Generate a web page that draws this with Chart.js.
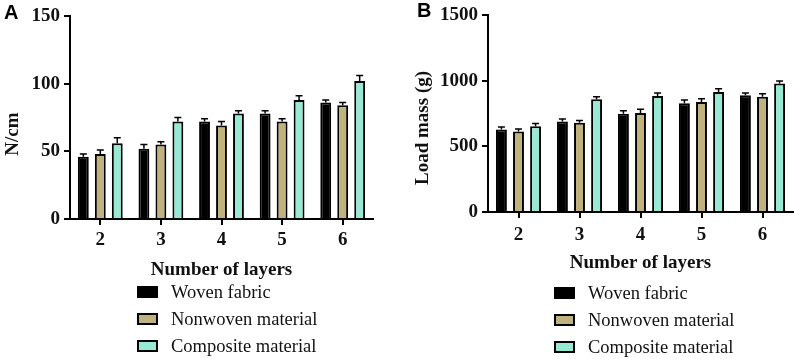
<!DOCTYPE html>
<html>
<head>
<meta charset="utf-8">
<script src="https://cdn.jsdelivr.net/npm/chart.js"></script>
<style>
  html, body { margin: 0; padding: 0; background: #fff; }
  #wrap { position: relative; width: 796px; height: 359px; overflow: hidden; }
  canvas { position: absolute; top: 0; }
  .plabel { position: absolute; font: bold 20px "Liberation Sans", Arial, sans-serif; color: #000; }
</style>
</head>
<body>
<div id="wrap">
  <canvas id="cA" width="400" height="359" style="left:0"></canvas>
  <canvas id="cB" width="396" height="359" style="left:400px"></canvas>
  <div class="plabel" style="left:4px; top:1px;">A</div>
  <div class="plabel" style="left:417px; top:-1px;">B</div>
</div>
<script>
// ---- data ----
const layers = ['2', '3', '4', '5', '6'];
const seriesNames = ['Woven fabric', 'Nonwoven material', 'Composite material'];

// Panel A: N/cm
const strengthWoven = [46, 52, 72, 78, 86];
const strengthNonwoven = [48, 55, 69, 72, 84];
const strengthComposite = [56, 72, 78, 88, 102];
const strengthWovenErr = [2, 3, 2, 2, 2];
const strengthNonwovenErr = [3, 2, 3, 2, 2];
const strengthCompositeErr = [4, 3, 2, 3, 4];
const strengthTicks = [0, 50, 100, 150];

// Panel B: Load mass (g)
const loadWoven = [630, 690, 750, 830, 890];
const loadNonwoven = [615, 680, 755, 840, 880];
const loadComposite = [655, 860, 885, 915, 980];
const loadWovenErr = [18, 20, 22, 25, 18];
const loadNonwovenErr = [18, 18, 28, 25, 22];
const loadCompositeErr = [20, 20, 22, 25, 20];
const loadTicks = [0, 500, 1000, 1500];

// ---- styles ----
const fills = ['#000000', '#c0b27c', '#97e9d4'];
const serif = '"Liberation Serif", "Times New Roman", serif';

const errorBarPlugin = {
  id: 'errorBars',
  afterDatasetsDraw(chart) {
    const ctx = chart.ctx;
    const ys = chart.scales.y;
    ctx.save();
    ctx.strokeStyle = '#000';
    ctx.lineWidth = 1.5;
    chart.data.datasets.forEach((ds, di) => {
      const meta = chart.getDatasetMeta(di);
      meta.data.forEach((el, i) => {
        const v = ds.data[i];
        const e = ds.errors[i];
        const yTop = ys.getPixelForValue(v + e);
        ctx.beginPath();
        ctx.moveTo(el.x, el.y);
        ctx.lineTo(el.x, yTop);
        ctx.moveTo(el.x - 3.5, yTop);
        ctx.lineTo(el.x + 3.5, yTop);
        ctx.stroke();
      });
    });
    ctx.restore();
  }
};

const stackedLegendPlugin = {
  id: 'stackedLegend',
  afterDraw(chart, args, opts) {
    const ctx = chart.ctx;
    ctx.save();
    chart.data.datasets.forEach((ds, i) => {
      const cy = opts.y0 + i * opts.gap;
      ctx.fillStyle = ds.backgroundColor;
      ctx.fillRect(opts.x, cy - 6, 21, 12);
      ctx.strokeStyle = '#000';
      ctx.lineWidth = 2;
      ctx.strokeRect(opts.x + 1, cy - 5, 19, 10);
      ctx.fillStyle = '#111';
      ctx.font = '18.5px ' + serif;
      ctx.textBaseline = 'middle';
      ctx.textAlign = 'left';
      ctx.fillText(ds.label, opts.x + 34, cy + 1);
    });
    ctx.restore();
  }
};

function makeChart(id, values, errors, ticks, yTitle, cfg) {
  const datasets = values.map((vals, i) => ({
    label: seriesNames[i],
    data: vals,
    errors: errors[i],
    backgroundColor: fills[i],
    borderColor: '#000',
    borderWidth: 2,
    categoryPercentage: 0.84,
    barPercentage: 0.64
  }));
  return new Chart(document.getElementById(id), {
    type: 'bar',
    data: { labels: layers, datasets },
    plugins: [errorBarPlugin, stackedLegendPlugin],
    options: {
      responsive: false,
      animation: false,
      devicePixelRatio: 1,
      layout: { padding: cfg.padding },
      plugins: {
        legend: { display: false },
        tooltip: { enabled: false },
        stackedLegend: cfg.legend
      },
      scales: {
        x: {
          offset: true,
          grid: { display: true, drawOnChartArea: false, drawTicks: true, tickLength: 6, color: '#000', lineWidth: 2, offset: false },
          border: { display: true, color: '#000', width: 2 },
          ticks: { color: '#111', font: { family: serif, size: 19, weight: 'bold' }, padding: cfg.xPad },
          title: { display: true, text: 'Number of layers', color: '#111', font: { family: serif, size: 19, weight: 'bold' }, padding: 0 },
          afterFit(s) { s.height = 62; }
        },
        y: {
          min: 0,
          max: ticks[ticks.length - 1],
          afterBuildTicks(s) { s.ticks = ticks.map(v => ({ value: v })); },
          grid: { display: true, drawOnChartArea: false, drawTicks: true, tickLength: 6, color: '#000', lineWidth: 2 },
          border: { display: true, color: '#000', width: 2 },
          ticks: { color: '#111', font: { family: serif, size: 19, weight: 'bold' }, padding: 4, callback: v => String(v) },
          title: { display: true, text: yTitle, color: '#111', font: { family: serif, size: 19, weight: 'bold' }, padding: { top: cfg.yTitlePad, bottom: 0 } },
          afterFit(s) { s.width = cfg.yWidth; }
        }
      }
    }
  });
}

makeChart('cA',
  [strengthWoven, strengthNonwoven, strengthComposite],
  [strengthWovenErr, strengthNonwovenErr, strengthCompositeErr],
  strengthTicks, 'N/cm       ',
  { padding: { left: 0, top: 16, right: 27, bottom: 78 }, yWidth: 70, yTitlePad: 2, xPad: 4,
    legend: { x: 137, y0: 292, gap: 27 } });

makeChart('cB',
  [loadWoven, loadNonwoven, loadComposite],
  [loadWovenErr, loadNonwovenErr, loadCompositeErr],
  loadTicks, 'Load mass (g)      ',
  { padding: { left: 12, top: 10, right: 3, bottom: 85 }, yWidth: 76, yTitlePad: 0, xPad: 6,
    legend: { x: 154, y0: 293, gap: 27 } });
</script>
</body>
</html>
